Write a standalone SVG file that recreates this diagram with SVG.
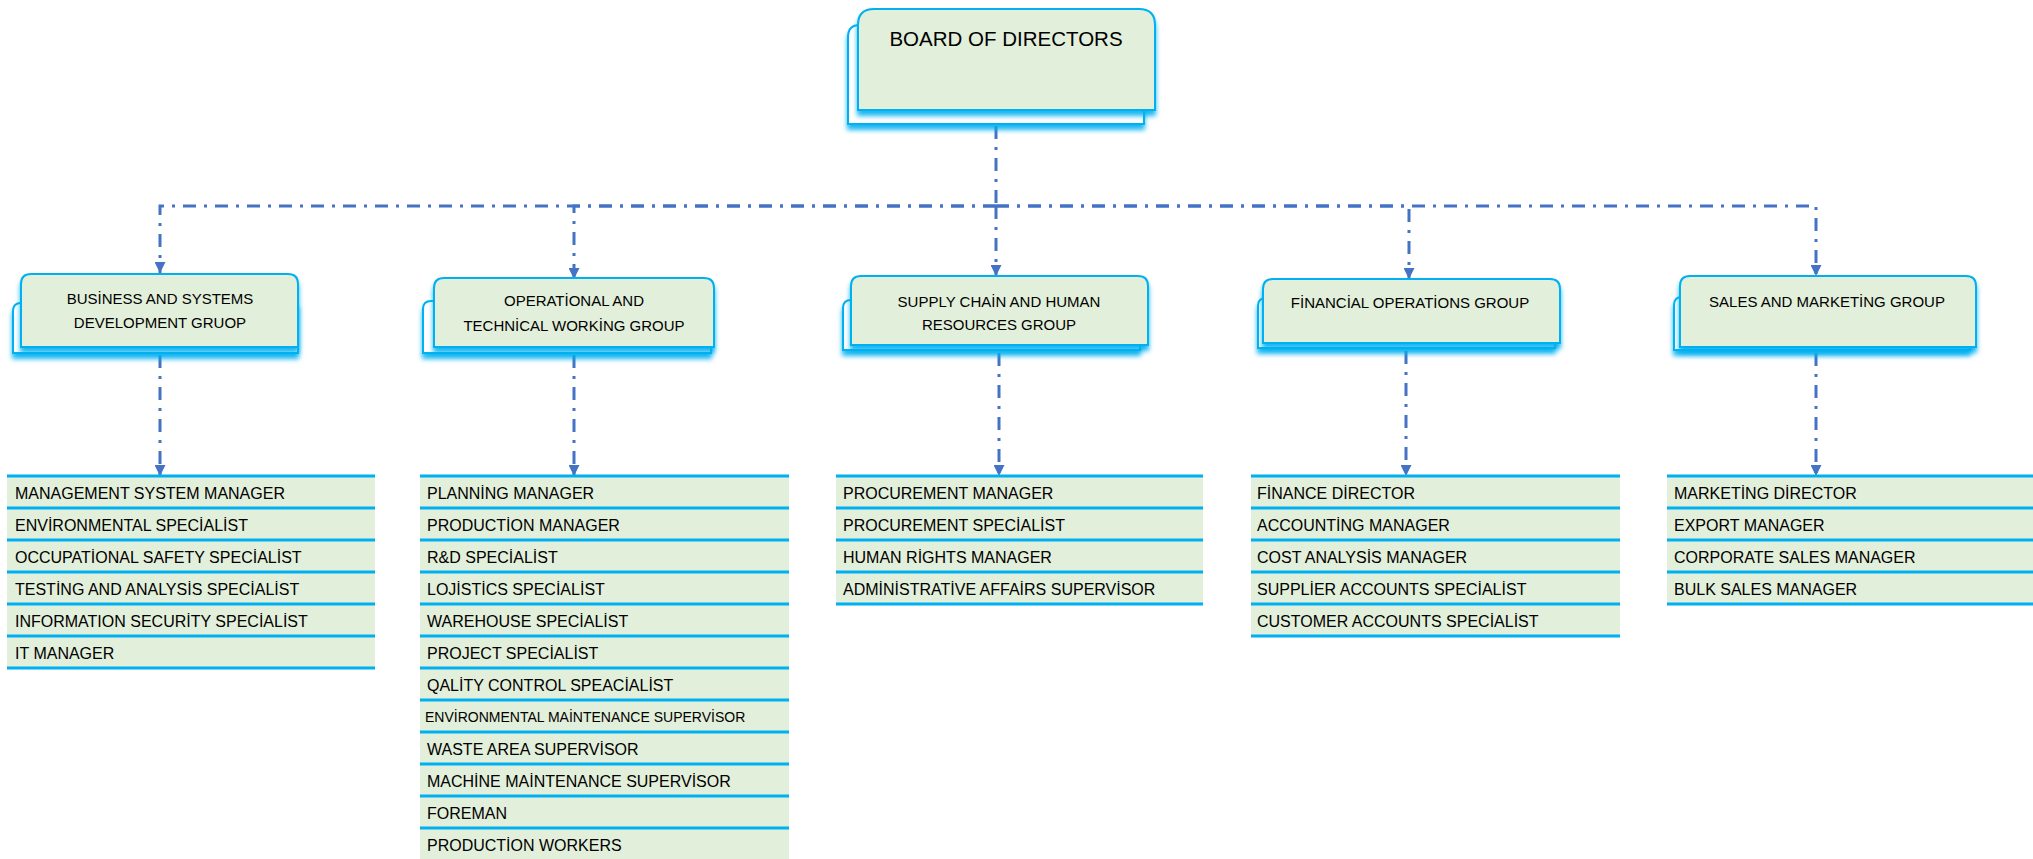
<svg xmlns="http://www.w3.org/2000/svg" width="2033" height="859" viewBox="0 0 2033 859">
  <style>
    .bg { fill: #ffffff; }
    .back { fill: #ffffff; stroke: #00B0F0; stroke-width: 2; filter: url(#glow); }
    .front { fill: #E2EFDA; stroke: #00B0F0; stroke-width: 2; filter: url(#glow); }
    .title { font-family: "Liberation Sans", Arial, sans-serif; font-size: 20.5px; fill: #000; text-anchor: middle; }
    .gtxt { font-family: "Liberation Sans", Arial, sans-serif; font-size: 15px; fill: #000; text-anchor: middle; }
    .row { fill: #E2EFDA; }
    .sep { stroke: #00B0F0; stroke-width: 3; }
    .item { font-family: "Liberation Sans", Arial, sans-serif; font-size: 16px; fill: #000; }
    .item.small { font-size: 14px; }
    .conn { fill: none; stroke: #4472C4; stroke-width: 3; stroke-dasharray: 13 8 3 8; }
  </style>
  <defs>
    <filter id="glow" x="-10%" y="-20%" width="120%" height="150%">
      <feDropShadow dx="0" dy="5" stdDeviation="2.5" flood-color="#00B0F0" flood-opacity="0.9"/>
    </filter>
    <marker id="arrow" viewBox="0 0 10 10" refX="10" refY="5" markerWidth="11" markerHeight="11" markerUnits="userSpaceOnUse" orient="auto">
      <path d="M0,0 L10,5 L0,10 Z" fill="#4472C4"/>
    </marker>
  </defs>

  <rect class="bg" x="0" y="0" width="2033" height="859"/>

  <!-- connectors -->
  <g id="connectors">
    <path class="conn" d="M996,126 V206"/>
    <path class="conn" d="M996,206 H160 V273" marker-end="url(#arrow)"/>
    <path class="conn" d="M996,206 H574 V279" marker-end="url(#arrow)"/>
    <path class="conn" d="M996,206 V276" marker-end="url(#arrow)"/>
    <path class="conn" d="M996,206 H1409 V279" marker-end="url(#arrow)"/>
    <path class="conn" d="M996,206 H1816 V276" marker-end="url(#arrow)"/>
    <path class="conn" d="M160,355 V476" marker-end="url(#arrow)"/>
    <path class="conn" d="M574,355 V476" marker-end="url(#arrow)"/>
    <path class="conn" d="M999,353 V476" marker-end="url(#arrow)"/>
    <path class="conn" d="M1406,351 V476" marker-end="url(#arrow)"/>
    <path class="conn" d="M1816,353 V476" marker-end="url(#arrow)"/>
  </g>

  <!-- board -->
  <g id="board">
    <path class="back" d="M848,124 V37 Q848,25 860,25 H1144 V124 Z"/>
    <path class="front" d="M858,110 V25 Q858,9 874,9 H1139 Q1155,9 1155,25 V110 Z"/>
    <text class="title" x="1006" y="46">BOARD OF DIRECTORS</text>
  </g>

  <!-- group nodes -->
  <g id="business-group">
    <path class="back" d="M13,353 V311 Q13,303 21,303 H298 V353 Z"/>
    <path class="front" d="M21,347 V284 Q21,274 31,274 H288 Q298,274 298,284 V347 Z"/>
    <text class="gtxt" x="160" y="304">BUSİNESS AND SYSTEMS</text>
    <text class="gtxt" x="160" y="328">DEVELOPMENT GRUOP</text>
  </g>

  <g id="operational-group">
    <path class="back" d="M423,353 V309 Q423,301 431,301 H711 V353 Z"/>
    <path class="front" d="M434,347 V288 Q434,278 444,278 H704 Q714,278 714,288 V347 Z"/>
    <text class="gtxt" x="574" y="306">OPERATİONAL AND</text>
    <text class="gtxt" x="574" y="331">TECHNİCAL WORKİNG GROUP</text>
  </g>

  <g id="supply-group">
    <path class="back" d="M843,350 V308 Q843,300 851,300 H1140 V350 Z"/>
    <path class="front" d="M851,345 V286 Q851,276 861,276 H1138 Q1148,276 1148,286 V345 Z"/>
    <text class="gtxt" x="999" y="307">SUPPLY CHAİN AND HUMAN</text>
    <text class="gtxt" x="999" y="330">RESOURCES GROUP</text>
  </g>

  <g id="financial-group">
    <path class="back" d="M1258,348 V306 Q1258,298 1266,298 H1555 V348 Z"/>
    <path class="front" d="M1263,343 V289 Q1263,279 1273,279 H1550 Q1560,279 1560,289 V343 Z"/>
    <text class="gtxt" x="1410" y="308">FİNANCİAL OPERATİONS GROUP</text>
  </g>

  <g id="sales-group">
    <path class="back" d="M1674,350 V305 Q1674,297 1682,297 H1970 V350 Z"/>
    <path class="front" d="M1680,347 V286 Q1680,276 1690,276 H1966 Q1976,276 1976,286 V347 Z"/>
    <text class="gtxt" x="1827" y="307">SALES AND MARKETİNG GROUP</text>
  </g>

  <!-- position lists -->
  <g id="business-list">
    <rect class="row" x="7" y="476" width="368" height="192"/>
    <line class="sep" x1="7" y1="476" x2="375" y2="476"/>
    <line class="sep" x1="7" y1="508" x2="375" y2="508"/>
    <line class="sep" x1="7" y1="540" x2="375" y2="540"/>
    <line class="sep" x1="7" y1="572" x2="375" y2="572"/>
    <line class="sep" x1="7" y1="604" x2="375" y2="604"/>
    <line class="sep" x1="7" y1="636" x2="375" y2="636"/>
    <line class="sep" x1="7" y1="668" x2="375" y2="668"/>
    <text class="item" x="15" y="499">MANAGEMENT SYSTEM MANAGER</text>
    <text class="item" x="15" y="531">ENVİRONMENTAL SPECİALİST</text>
    <text class="item" x="15" y="563">OCCUPATİONAL SAFETY SPECİALİST</text>
    <text class="item" x="15" y="595">TESTİNG AND ANALYSİS SPECİALİST</text>
    <text class="item" x="15" y="627">INFORMATION SECURİTY SPECİALİST</text>
    <text class="item" x="15" y="659">IT MANAGER</text>
  </g>

  <g id="operational-list">
    <rect class="row" x="420" y="476" width="369" height="383"/>
    <line class="sep" x1="420" y1="476" x2="789" y2="476"/>
    <line class="sep" x1="420" y1="508" x2="789" y2="508"/>
    <line class="sep" x1="420" y1="540" x2="789" y2="540"/>
    <line class="sep" x1="420" y1="572" x2="789" y2="572"/>
    <line class="sep" x1="420" y1="604" x2="789" y2="604"/>
    <line class="sep" x1="420" y1="636" x2="789" y2="636"/>
    <line class="sep" x1="420" y1="668" x2="789" y2="668"/>
    <line class="sep" x1="420" y1="700" x2="789" y2="700"/>
    <line class="sep" x1="420" y1="732" x2="789" y2="732"/>
    <line class="sep" x1="420" y1="764" x2="789" y2="764"/>
    <line class="sep" x1="420" y1="796" x2="789" y2="796"/>
    <line class="sep" x1="420" y1="828" x2="789" y2="828"/>
    <text class="item" x="427" y="499">PLANNİNG MANAGER</text>
    <text class="item" x="427" y="531">PRODUCTİON MANAGER</text>
    <text class="item" x="427" y="563">R&amp;D SPECİALİST</text>
    <text class="item" x="427" y="595">LOJİSTİCS SPECİALİST</text>
    <text class="item" x="427" y="627">WAREHOUSE SPECİALİST</text>
    <text class="item" x="427" y="659">PROJECT SPECİALİST</text>
    <text class="item" x="427" y="691">QALİTY CONTROL SPEACİALİST</text>
    <text class="item small" x="425" y="722">ENVİRONMENTAL MAİNTENANCE SUPERVİSOR</text>
    <text class="item" x="427" y="755">WASTE AREA SUPERVİSOR</text>
    <text class="item" x="427" y="787">MACHİNE MAİNTENANCE SUPERVİSOR</text>
    <text class="item" x="427" y="819">FOREMAN</text>
    <text class="item" x="427" y="851">PRODUCTİON WORKERS</text>
  </g>

  <g id="supply-list">
    <rect class="row" x="836" y="476" width="367" height="128"/>
    <line class="sep" x1="836" y1="476" x2="1203" y2="476"/>
    <line class="sep" x1="836" y1="508" x2="1203" y2="508"/>
    <line class="sep" x1="836" y1="540" x2="1203" y2="540"/>
    <line class="sep" x1="836" y1="572" x2="1203" y2="572"/>
    <line class="sep" x1="836" y1="604" x2="1203" y2="604"/>
    <text class="item" x="843" y="499">PROCUREMENT MANAGER</text>
    <text class="item" x="843" y="531">PROCUREMENT SPECİALİST</text>
    <text class="item" x="843" y="563">HUMAN RİGHTS MANAGER</text>
    <text class="item" x="843" y="595">ADMİNİSTRATİVE AFFAİRS SUPERVİSOR</text>
  </g>

  <g id="financial-list">
    <rect class="row" x="1251" y="476" width="369" height="160"/>
    <line class="sep" x1="1251" y1="476" x2="1620" y2="476"/>
    <line class="sep" x1="1251" y1="508" x2="1620" y2="508"/>
    <line class="sep" x1="1251" y1="540" x2="1620" y2="540"/>
    <line class="sep" x1="1251" y1="572" x2="1620" y2="572"/>
    <line class="sep" x1="1251" y1="604" x2="1620" y2="604"/>
    <line class="sep" x1="1251" y1="636" x2="1620" y2="636"/>
    <text class="item" x="1257" y="499">FİNANCE DİRECTOR</text>
    <text class="item" x="1257" y="531">ACCOUNTİNG MANAGER</text>
    <text class="item" x="1257" y="563">COST ANALYSİS MANAGER</text>
    <text class="item" x="1257" y="595">SUPPLİER ACCOUNTS SPECİALİST</text>
    <text class="item" x="1257" y="627">CUSTOMER ACCOUNTS SPECİALİST</text>
  </g>

  <g id="sales-list">
    <rect class="row" x="1667" y="476" width="366" height="128"/>
    <line class="sep" x1="1667" y1="476" x2="2033" y2="476"/>
    <line class="sep" x1="1667" y1="508" x2="2033" y2="508"/>
    <line class="sep" x1="1667" y1="540" x2="2033" y2="540"/>
    <line class="sep" x1="1667" y1="572" x2="2033" y2="572"/>
    <line class="sep" x1="1667" y1="604" x2="2033" y2="604"/>
    <text class="item" x="1674" y="499">MARKETİNG DİRECTOR</text>
    <text class="item" x="1674" y="531">EXPORT MANAGER</text>
    <text class="item" x="1674" y="563">CORPORATE SALES MANAGER</text>
    <text class="item" x="1674" y="595">BULK SALES MANAGER</text>
  </g>
</svg>
